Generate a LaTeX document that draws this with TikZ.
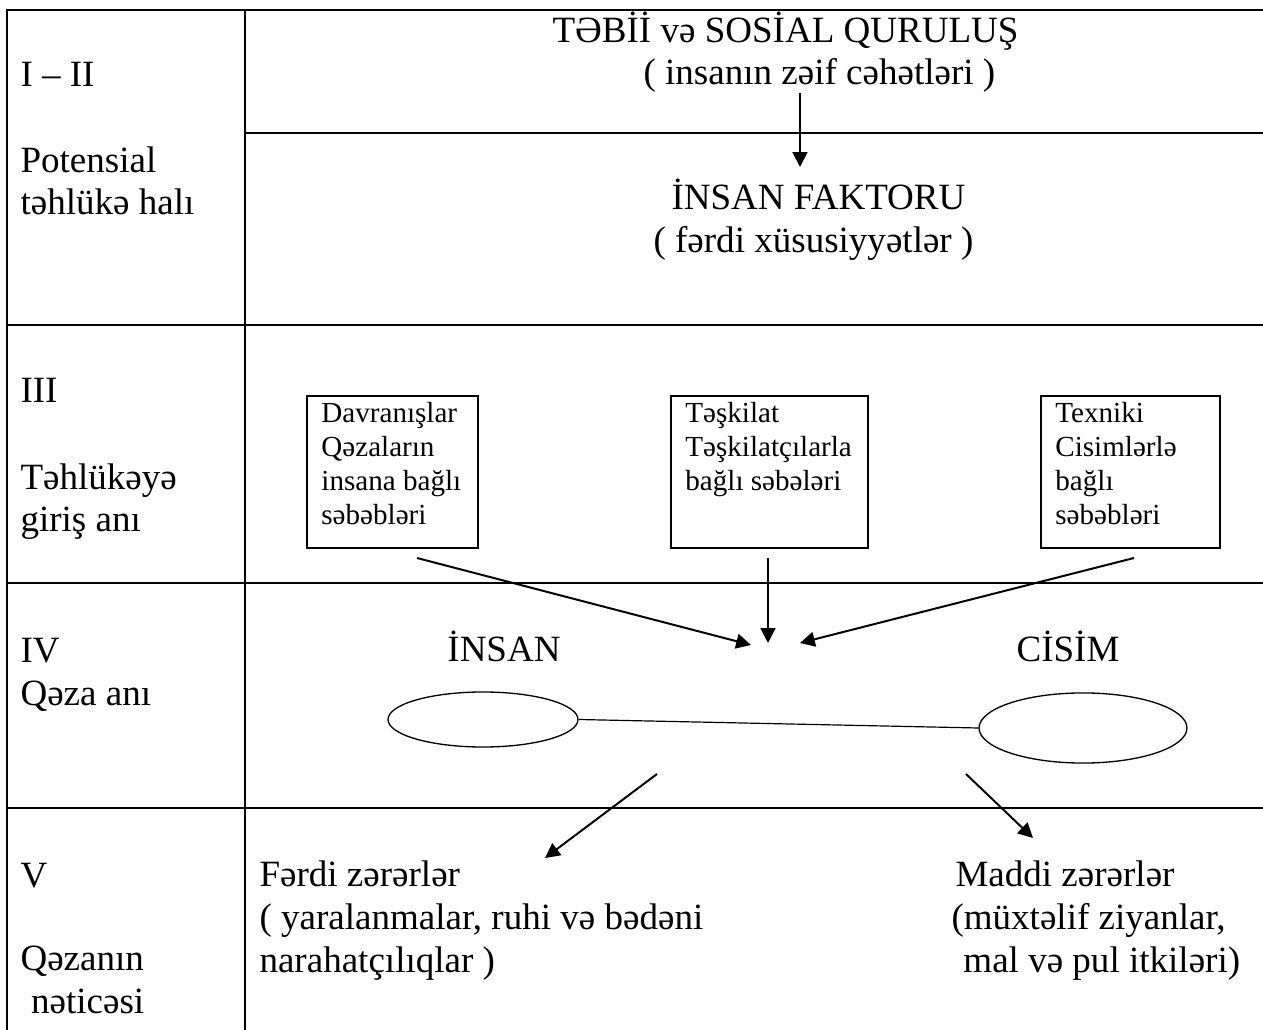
\documentclass[tikz,border=0pt]{standalone}
\usepackage{fontspec}
\setmainfont{Liberation Serif}
\usetikzlibrary{arrows.meta,shapes.geometric}

\newcommand{\reasons}[2]{\parbox[t]{#1}{\raggedright #2}}

\begin{document}
\begin{tikzpicture}[x=0.378pt,y=-0.378pt,>={Triangle[length=5.6pt,width=5.6pt]},
                    grid/.style={line width=0.9pt},
                    txt/.style={anchor=base west,inner sep=0pt,align=left,
                                font=\fontsize{14}{16.1}\selectfont},
                    word/.style={anchor=base,inner sep=0pt,
                                 font=\fontsize{14}{16.1}\selectfont},
                    cause/.style={draw,line width=0.65pt,anchor=north west,
                                  inner ysep=0pt,inner xsep=5.5pt,text height=10.2pt,
                                  text depth=47.3pt,font=\fontsize{11}{12.85}\selectfont},
                    place/.style={draw,ellipse,line width=0.5pt,inner sep=0pt},
                    flow/.style={->,line width=0.75pt}]

  \useasboundingbox (0,0) rectangle (1263,1030);

  % table
  \draw[grid] (7,1030) -- (7,10) -- (1263,10);
  \draw[grid] (245,10) -- (245,1030);
  \draw[grid] (245,133) -- (1263,133);
  \draw[grid] (7,325) -- (1263,325);
  \draw[grid] (7,583) -- (1263,583);
  \draw[grid] (7,808) -- (1263,808);

  % stages (multi-line nodes sit on their last line)
  \node[txt] (s12)  at (20,87)   {I -- II};
  \node[txt] (s12t) at (20,215)  {Potensial\\təhlükə halı};
  \node[txt] (s3)   at (20,403)  {III};
  \node[txt] (s3t)  at (20,532)  {Təhlükəyə\\giriş anı};
  \node[txt] (s4)   at (20,705)  {IV\\Qəza anı};
  \node[txt] (s5)   at (20,887)  {V};
  \node[txt] (s5t)  at (20,1013) {Qəzanın\\\hspace*{4pt}nəticəsi};

  % I - II
  \node[txt] (tebii) at (552,43)  {TƏBİİ və SOSİAL QURULUŞ};
  \node[txt] (zeif)  at (643,85)  {( insanın zəif cəhətləri )};
  \node[txt] (fakt)  at (671,210) {İNSAN FAKTORU};
  \node[txt] (ferd)  at (653,253) {( fərdi xüsusiyyətlər )};
  \coordinate (t1) at (800,93);
  \coordinate (t2) at (800,167);
  \path (t1) edge[flow] (t2);

  % III
  \node[cause] (davr) at (306,395) {\reasons{53.6pt}{Davranışlar\\Qəzaların\\insana bağlı\\səbəbləri}};
  \node[cause] (teşk) at (670,395) {\reasons{63.5pt}{Təşkilat\\Təşkilatçılarla\\bağlı səbələri}};
  \node[cause] (texn) at (1040,395) {\reasons{56.7pt}{Texniki\\Cisimlərlə\\bağlı\\səbəbləri}};
  \coordinate (c1) at (417,558);
  \coordinate (c2) at (768,558);
  \coordinate (c3) at (1134,558);
  \coordinate (m1) at (751,645);
  \coordinate (m2) at (768,643);
  \coordinate (m3) at (800,643);
  \path (c1) edge[flow] (m1);
  \path (c2) edge[flow] (m2);
  \path (c3) edge[flow] (m3);

  % IV
  \node[word] (insan) at (504,662)  {İNSAN};
  \node[word] (cisim) at (1068,662) {CİSİM};
  \node[place,minimum width=71.8pt,minimum height=20.8pt] (pi) at (483,719.5) {};
  \node[place,minimum width=78.6pt,minimum height=26.5pt] (pc) at (1083,728) {};
  \draw[line width=0.45pt] (pi.east) -- (pc.west);

  % V
  \coordinate (d1) at (657,774);
  \coordinate (d2) at (545,858);
  \coordinate (d3) at (966,774);
  \coordinate (d4) at (1033,838);
  \path (d1) edge[flow] (d2);
  \path (d3) edge[flow] (d4);
  \node[txt] (fzer) at (259,972) {Fərdi zərərlər\\( yaralanmalar, ruhi və bədəni\\narahatçılıqlar )};
  \node[txt] (mzer) at (951,972) {\hspace*{1.5pt}Maddi zərərlər\\(müxtəlif ziyanlar,\\\hspace*{4.5pt}mal və pul itkiləri)};

\end{tikzpicture}
\end{document}
